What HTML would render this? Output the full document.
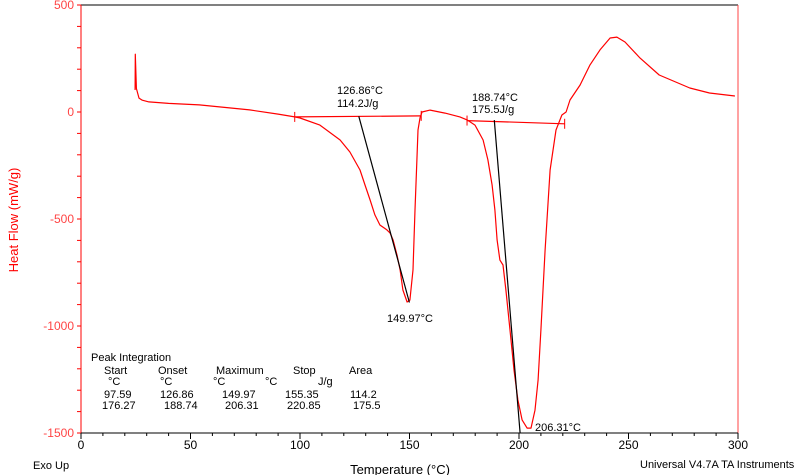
<!DOCTYPE html>
<html><head><meta charset="utf-8"><style>
body{margin:0;background:#fff;}
svg{display:block;font-family:"Liberation Sans",sans-serif;}
</style></head><body>
<svg id="chart" width="800" height="475">
<rect width="800" height="475" fill="#fff"/>
<g id="axes"></g>
<g id="marks"></g>
<g id="labels" font-size="11" fill="#000"></g>
</svg>
<script>
const xTicks=[0,50,100,150,200,250,300];
const yTicks=[500,0,-500,-1000,-1500];
const curveT=[24.7,24.8,25.3,26.5,28,31,40,54,77,90,97.6,100,109.1,118.3,122.8,127.4,129.7,132,134.2,136.5,139.7,141.1,142.5,144.3,145.7,147,148.9,150.2,151.6,152.5,153.4,153.9,154.8,155.7,159.4,166.2,173,176.3,179.9,183.6,185.8,187.7,189,190,191.3,192.7,194,195.9,197.7,199.5,201.4,203.7,205.5,207.3,208.7,210,211.9,214.2,216.9,219.6,221.5,223.3,227.9,232.4,237,241.6,244.7,248.4,255.3,264,278,287,298.6];
const curveHF=[103,270,110,65,55,47,40,33,10,-10,-23,-28,-61,-131,-187,-271,-341,-411,-481,-528,-551,-565,-598,-668,-738,-832,-888,-879,-738,-458,-224,-84,-28,0,9,-5,-23,-37,-61,-131,-224,-341,-458,-598,-692,-715,-832,-1019,-1206,-1346,-1439,-1477,-1477,-1393,-1252,-1019,-645,-271,-84,-14,0,56,126,220,290,346,350,327,252,173,112,89,75];
const baseT1=[97.59,155.35], baseHF1=[-23,-18];
const baseT2=[176.27,220.85], baseHF2=[-40,-55];
const tanT1=[126.86,149.97], tanHF1=[-20,-890];
const tanT2=[188.74,200.5], tanHF2=[-38,-1500];
const X0=81,X1=738,Y0=5,Y1=433;
const sx=t=>X0+(t-0)*(X1-X0)/300;
const sy=v=>Y0+(500-v)*(Y1-Y0)/2000;
const NS="http://www.w3.org/2000/svg";
function mk(tag,attrs,parent){const e=document.createElementNS(NS,tag);for(const k in attrs)e.setAttribute(k,attrs[k]);parent.appendChild(e);return e;}
const ax=document.getElementById('axes'),mg=document.getElementById('marks'),lg=document.getElementById('labels');
let e;
e=mk('line',{x1:X0,y1:Y0,x2:X1,y2:Y0,stroke:'#000','stroke-width':1},ax);

e=mk('line',{x1:X1,y1:Y0,x2:X1,y2:Y1,stroke:'#f44','stroke-width':1},ax);

e=mk('line',{x1:X0,y1:Y0,x2:X0,y2:Y1,stroke:'#f00','stroke-width':1},ax);

e=mk('line',{x1:X0,y1:Y1,x2:X1,y2:Y1,stroke:'#000','stroke-width':1},ax);

for(let v=-1500;v<=500;v+=100){e=mk('line',{x1:X0-4,y1:sy(v),x2:X0,y2:sy(v),stroke:'#f00'},ax);
}
for(let t=0;t<=300;t+=10){const big=t%50==0;e=mk('line',{x1:sx(t),y1:Y1,x2:sx(t),y2:Y1+(big?6:3),stroke:'#000'},ax);
}
yTicks.forEach(v=>{e=mk('text',{x:X0-7,y:sy(v)+4,'text-anchor':'end','font-size':12,fill:'#f44'},ax);e.textContent=v;
});
xTicks.forEach(t=>{e=mk('text',{x:sx(t),y:Y1+16,'text-anchor':'middle','font-size':12,fill:'#000'},ax);e.textContent=t;
});
e=mk('text',{x:18,y:220,'text-anchor':'middle','font-size':13,fill:'#f00',transform:'rotate(-90 18 220)'},ax);e.textContent='Heat Flow (mW/g)';

e=mk('text',{x:400,y:474,'text-anchor':'middle','font-size':13},ax);e.textContent='Temperature (°C)';

e=mk('text',{x:33,y:469,'font-size':11},ax);e.textContent='Exo Up';

e=mk('text',{x:640,y:468,'font-size':11},ax);e.textContent='Universal V4.7A TA Instruments';

function line(Ts,Vs,col,name){const p=Ts.map((t,i)=>sx(t).toFixed(1)+','+sy(Vs[i]).toFixed(1)).join(' ');
const el=mk('polyline',{points:p,fill:'none',stroke:col,'stroke-width':1.2,'stroke-linejoin':'round'},mg);
}
line(curveT,curveHF,'#f00','heat-flow-curve');
line(baseT1,baseHF1,'#f00','baseline-peak-1');
line(baseT2,baseHF2,'#f00','baseline-peak-2');
line(tanT1,tanHF1,'#000','onset-tangent-1');
line(tanT2,tanHF2,'#000','onset-tangent-2');
[[97.59,-23],[155.35,-18],[176.27,-40],[220.85,-55]].forEach(p=>{e=mk('line',{x1:sx(p[0]),y1:sy(p[1])-5,x2:sx(p[0]),y2:sy(p[1])+5,stroke:'#f00'},mg);
});
const txt=[[337,94,'126.86°C','onset-label-1'],[337,107,'114.2J/g','area-label-1'],[472,101,'188.74°C','onset-label-2'],[472,113,'175.5J/g','area-label-2'],[387,322,'149.97°C','peak-label-1'],[535,431,'206.31°C','peak-label-2'],
[91,361,'Peak Integration','table-title'],[104,374,'Start','col-start'],[158,374,'Onset','col-onset'],[216,374,'Maximum','col-maximum'],[293,374,'Stop','col-stop'],[349,374,'Area','col-area'],
[108,385,'°C','unit-start'],[160,385,'°C','unit-onset'],[213,385,'°C','unit-maximum'],[265,385,'°C','unit-c'],[318,385,'J/g','unit-jg'],
[104,398,'97.59','row1-start'],[160,398,'126.86','row1-onset'],[222,398,'149.97','row1-max'],[285,398,'155.35','row1-stop'],[350,398,'114.2','row1-area'],
[102,409,'176.27','row2-start'],[164,409,'188.74','row2-onset'],[225,409,'206.31','row2-max'],[287,409,'220.85','row2-stop'],[353,409,'175.5','row2-area']];
txt.forEach(a=>{e=mk('text',{x:a[0],y:a[1]},lg);e.textContent=a[2];
});
</script>
</body></html>
